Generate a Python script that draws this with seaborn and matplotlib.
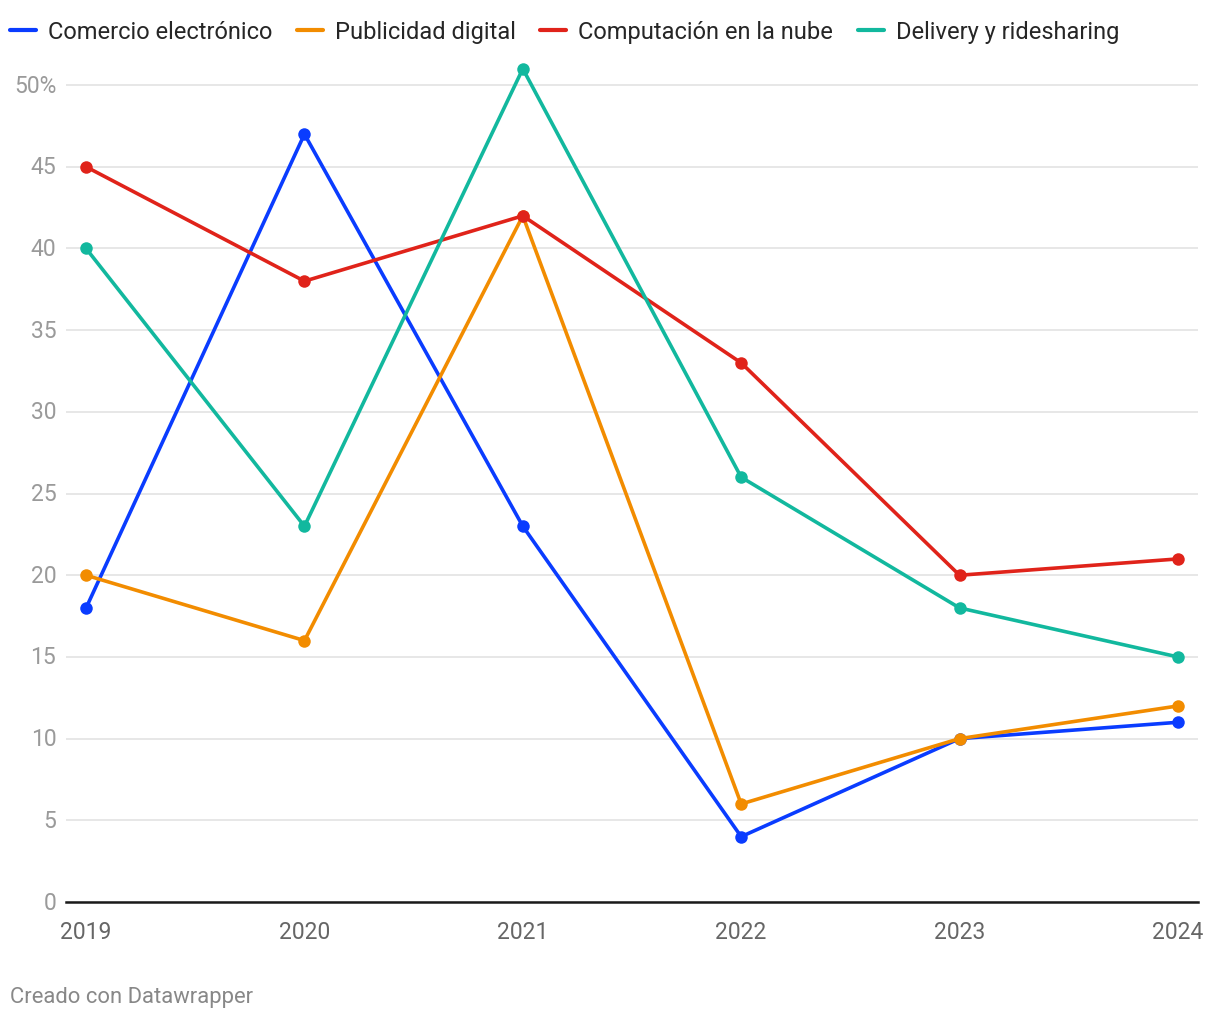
import pandas as pd
import seaborn as sns
import matplotlib.pyplot as plt

years = [2019, 2020, 2021, 2022, 2023, 2024]
series_names = ['Comercio electrónico', 'Publicidad digital',
                'Computación en la nube', 'Delivery y ridesharing']
comercio = [18, 47, 23, 4, 10, 11]
publicidad = [20, 16, 42, 6, 10, 12]
computacion = [45, 38, 42, 33, 20, 21]
delivery = [40, 23, 51, 26, 18, 15]
colors = ['#0a3cff', '#f28c00', '#e0231a', '#12b89e']
y_ticks = [0, 5, 10, 15, 20, 25, 30, 35, 40, 45, 50]
y_labels = ['0', '5', '10', '15', '20', '25', '30', '35', '40', '45', '50%']

rows = []
for name, vals in zip(series_names, [comercio, publicidad, computacion, delivery]):
    for yr, v in zip(years, vals):
        rows.append({'Año': yr, 'Valor': v, 'Serie': name})
df = pd.DataFrame(rows)

sns.set_style('white')
plt.rcParams['font.family'] = ['Roboto', 'DejaVu Sans']

fig = plt.figure(figsize=(12.2, 10.2), dpi=100)
ax = fig.add_axes([66 / 1220, 0.1147, (1198 - 66) / 1220, 0.8265])

sns.lineplot(data=df, x='Año', y='Valor', hue='Serie', hue_order=series_names,
             palette=colors, marker='o', markersize=9, markeredgewidth=0,
             linewidth=2.6, ax=ax, legend=False)

ax.set_xlim(2018.908, 2024.092)
ax.set_ylim(0, 51.6)
ax.set_yticks(y_ticks)
ax.set_yticklabels(y_labels)
ax.set_xticks(years)
ax.set_xticklabels([str(y) for y in years])
ax.tick_params(axis='y', length=0, pad=7, labelsize=16.5, labelcolor='#9a9a9a')
ax.tick_params(axis='x', length=0, pad=13, labelsize=16.5, labelcolor='#666666')
for lbl in ax.get_yticklabels():
    lbl.set_verticalalignment('center')
ax.grid(axis='y', color='#e3e3e3', linewidth=1.2)
ax.set_axisbelow(True)
for s in ['top', 'right', 'left']:
    ax.spines[s].set_visible(False)
ax.spines['bottom'].set_color('#1a1a1a')
ax.spines['bottom'].set_linewidth(1.8)
ax.set_xlabel('')
ax.set_ylabel('')

handles = [plt.Line2D([], [], color=c, linewidth=3, solid_capstyle='round')
           for c in colors]
fig.legend(handles, series_names, loc='upper left',
           bbox_to_anchor=(10 / 1220, 1 - 21 / 1020),
           ncol=4, frameon=False, fontsize=17, handlelength=1.1,
           handletextpad=0.5, columnspacing=1.05, borderaxespad=0, borderpad=0)

fig.text(10 / 1220, 1 - 998 / 1020, 'Creado con Datawrapper', fontsize=15.8,
         color='#888888', va='center', ha='left')

fig.savefig('out.png', dpi=100)
